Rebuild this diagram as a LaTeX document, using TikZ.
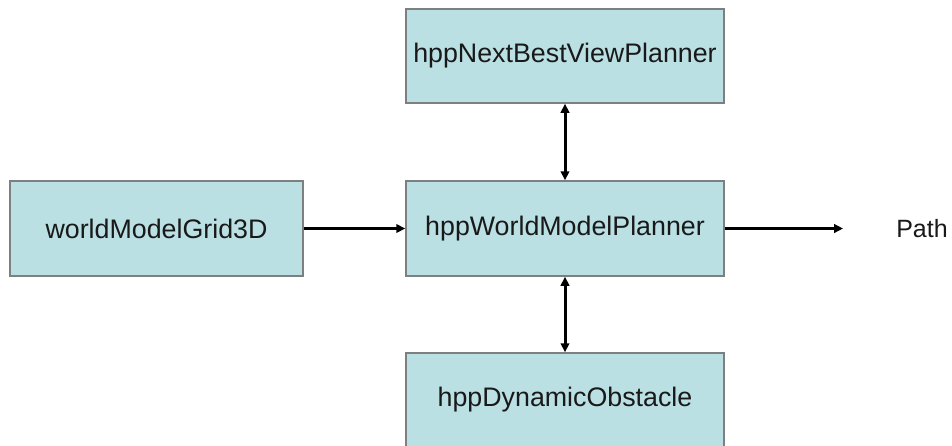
\documentclass[tikz,border=0pt]{standalone}
\usepackage{fontspec}
\setmainfont{Liberation Sans}
\usetikzlibrary{arrows.meta}
\definecolor{boxfill}{RGB}{186,224,228}
\definecolor{boxline}{RGB}{125,128,128}
\definecolor{txt}{RGB}{25,25,25}
\tikzset{
  module/.style={draw=boxline, line width=1.5pt, fill=boxfill, inner sep=0pt,
    text=txt, font=\fontsize{26.8}{30}\selectfont},
  conn/.style={line width=3pt, -{Triangle[length=9pt,width=8.5pt]}},
  biconn/.style={line width=3pt, {Triangle[length=9pt,width=8.5pt]}-{Triangle[length=9pt,width=8.5pt]}}
}
\begin{document}
\begin{tikzpicture}[x=1pt,y=-1pt]
\useasboundingbox (0,0) rectangle (952,445);
\node[module, minimum width=293pt, minimum height=95pt] (grid) at (156.5,228.5) {worldModelGrid3D};
\node[module, minimum width=318pt, minimum height=95pt] (mid) at (565,228.5) {hppWorldModelPlanner};
\node[module, minimum width=318pt, minimum height=94pt] (top) at (565,56) {hppNextBestViewPlanner};
\node[module, minimum width=318pt, minimum height=94pt] (bot) at (565,400) {hppDynamicObstacle};
\node[text=txt, font=\fontsize{25}{30}\selectfont, inner sep=0pt] (path) at (922,229) {Path};
\draw[conn] (grid.east) -- (mid.west);
\draw[conn, shorten >=53pt] (mid.east) -- (path.west |- mid.east);
\draw[biconn] (top.south) -- (mid.north);
\draw[biconn] (mid.south) -- (bot.north);
\end{tikzpicture}
\end{document}
